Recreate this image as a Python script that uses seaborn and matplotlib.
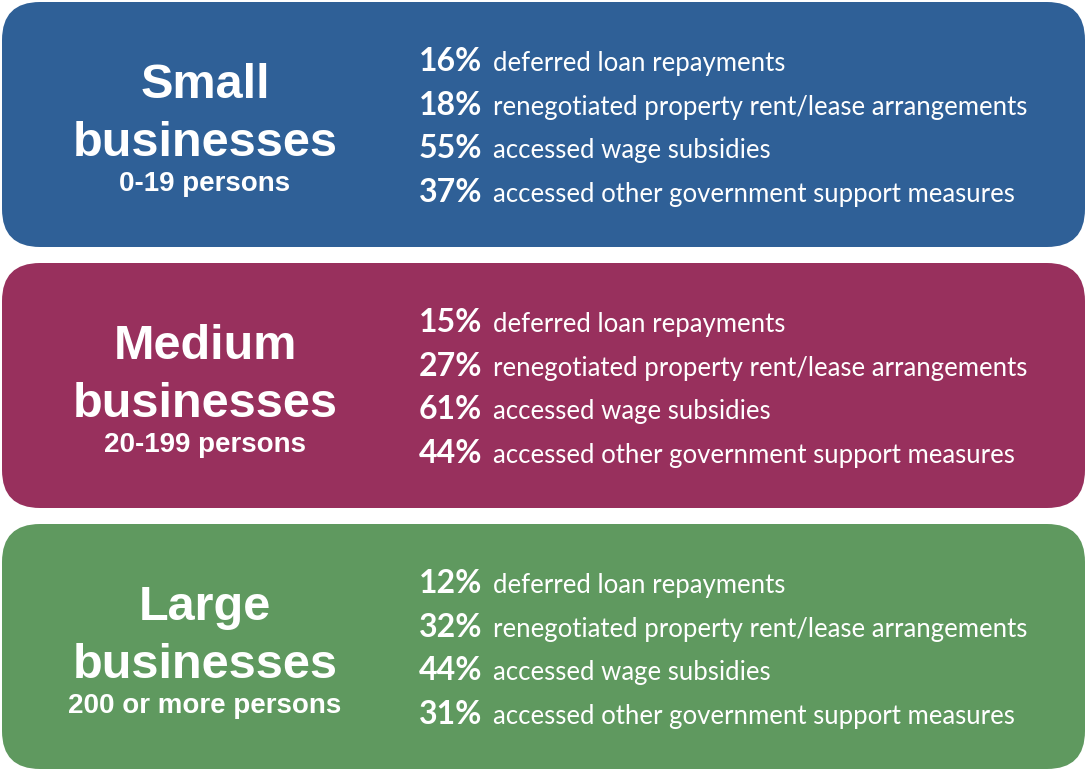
import matplotlib
matplotlib.use("Agg")
import matplotlib.pyplot as plt
from matplotlib.patches import FancyBboxPatch
import seaborn as sns

# ---- data ----
size_names = ["Small", "Medium", "Large"]
size_ranges = ["0-19 persons", "20-199 persons", "200 or more persons"]
measures = [
    "deferred loan repayments",
    "renegotiated property rent/lease arrangements",
    "accessed wage subsidies",
    "accessed other government support measures",
]
small_pct = [16, 18, 55, 37]
medium_pct = [15, 27, 61, 44]
large_pct = [12, 32, 44, 31]
pct_values = [small_pct, medium_pct, large_pct]
box_colors = ["#2F6097", "#98305D", "#5F995F"]

sns.set_theme(style="white")

W, H = 1087, 771
fig = plt.figure(figsize=(W / 100, H / 100), dpi=100)
ax = fig.add_axes([0, 0, 1, 1])
ax.set_xlim(0, W)
ax.set_ylim(H, 0)
ax.axis("off")
fig.patch.set_facecolor("white")

box_top = [2, 263, 524]
box_h = 245
box_x0, box_x1 = 2, 1085
radius = 38

head_font = "Liberation Sans"
body_font = "Lato"

for i, name in enumerate(size_names):
    y0 = box_top[i]
    patch = FancyBboxPatch((box_x0, y0), box_x1 - box_x0, box_h,
                           boxstyle=f"round,pad=0,rounding_size={radius}",
                           facecolor=box_colors[i], edgecolor="none",
                           mutation_aspect=1)
    ax.add_patch(patch)
    cx = 205
    ax.text(cx, y0 + 96, name, color="white", fontsize=35, fontweight="bold",
            family=head_font, ha="center", va="baseline")
    ax.text(cx, y0 + 154, "businesses", color="white", fontsize=35, fontweight="bold",
            family=head_font, ha="center", va="baseline")
    ax.text(cx, y0 + 189, size_ranges[i], color="white", fontsize=20, fontweight="bold",
            family=head_font, ha="center", va="baseline")
    for j, m in enumerate(measures):
        yb = y0 + 69 + 43.7 * j
        ax.text(419, yb, f"{pct_values[i][j]}%", color="white", fontsize=23,
                fontweight="bold", family=body_font, ha="left", va="baseline")
        ax.text(493, yb, m, color="white", fontsize=18.5,
                family=body_font, ha="left", va="baseline")

fig.savefig("out.png", dpi=100, facecolor="white")
